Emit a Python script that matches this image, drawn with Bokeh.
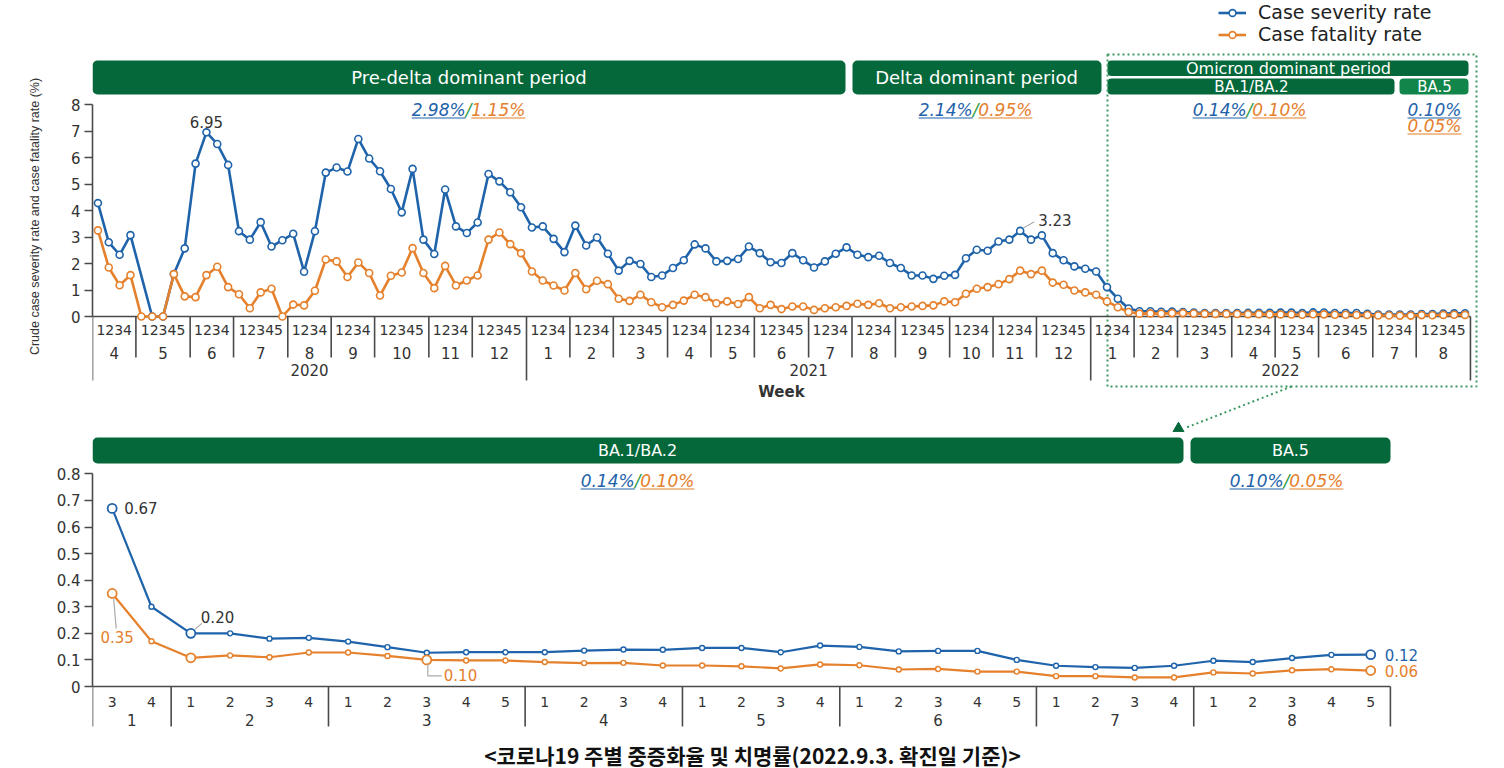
import math
from bokeh.plotting import figure
from bokeh.models import (FixedTicker, Legend, LegendItem, Range1d,
                          CustomJSTickFormatter)
from bokeh.layouts import column
from bokeh.core.properties import value
from bokeh.embed import file_html
from bokeh.resources import INLINE

NaN = float("nan")

# ======================= DATA =======================
years = ["2020", "2021", "2022"]
months_2020 = ["4", "5", "6", "7", "8", "9", "10", "11", "12"]
weeks_2020 = [4, 5, 4, 5, 4, 4, 5, 4, 5]
months_2021 = ["1", "2", "3", "4", "5", "6", "7", "8", "9", "10", "11", "12"]
weeks_2021 = [4, 4, 5, 4, 4, 5, 4, 4, 5, 4, 4, 5]
months_2022 = ["1", "2", "3", "4", "5", "6", "7", "8"]
weeks_2022 = [4, 4, 5, 4, 4, 5, 4, 5]

severity_2020 = [
    4.28, 2.80, 2.33, 3.07,
    NaN, 0.00, 0.00, 1.60, 2.57,
    5.77, 6.95, 6.51, 5.72,
    3.22, 2.90, 3.56, 2.64, 2.88,
    3.12, 1.69, 3.22, 5.43,
    5.62, 5.47, 6.70, 5.96,
    5.48, 4.81, 3.93, 5.57, 2.90,
    2.36, 4.79, 3.40, 3.15,
    3.55, 5.38, 5.10, 4.69, 4.12,
]
fatality_2020 = [
    3.25, 1.85, 1.18, 1.56,
    0.00, 0.00, 0.00, 1.60, 0.76,
    0.73, 1.56, 1.88, 1.11,
    0.84, 0.31, 0.91, 1.05, 0.00,
    0.45, 0.42, 0.97, 2.15,
    2.08, 1.49, 2.04, 1.64,
    0.79, 1.54, 1.66, 2.58, 1.64,
    1.07, 1.91, 1.17, 1.36,
    1.55, 2.90, 3.17, 2.73, 2.39,
]
severity_2021 = [
    3.36, 3.40, 2.93, 2.43,
    3.43, 2.68, 2.98, 2.37,
    1.73, 2.10, 1.98, 1.49, 1.55,
    1.83, 2.12, 2.72, 2.57,
    2.08, 2.10, 2.17, 2.64,
    2.39, 2.05, 2.02, 2.39, 2.12,
    1.85, 2.08, 2.37, 2.61,
    2.33, 2.24, 2.29, 2.02,
    1.83, 1.55, 1.55, 1.42, 1.54,
    1.57, 2.20, 2.52, 2.48,
    2.83, 2.90, 3.23, 2.90,
    3.06, 2.39, 2.12, 1.89, 1.80,
]
fatality_2021 = [
    1.70, 1.36, 1.17, 0.98,
    1.64, 1.03, 1.35, 1.22,
    0.67, 0.59, 0.82, 0.54, 0.35,
    0.44, 0.60, 0.82, 0.73,
    0.50, 0.57, 0.47, 0.73,
    0.31, 0.44, 0.28, 0.38, 0.38,
    0.25, 0.31, 0.35, 0.40,
    0.48, 0.44, 0.50, 0.31,
    0.35, 0.38, 0.40, 0.42, 0.57,
    0.54, 0.86, 1.05, 1.11,
    1.22, 1.41, 1.73, 1.60,
    1.73, 1.28, 1.20, 0.98, 0.91,
]
severity_2022_jan_w1_w2 = [1.70, 1.11]
fatality_2022_jan_w1_w2 = [0.82, 0.57]

# 2022, January week 3 - August week 5 (lower panel)
bottom_months = ["1", "2", "3", "4", "5", "6", "7", "8"]
bottom_weeks = [["3", "4"], ["1", "2", "3", "4"], ["1", "2", "3", "4", "5"],
                ["1", "2", "3", "4"], ["1", "2", "3", "4"],
                ["1", "2", "3", "4", "5"], ["1", "2", "3", "4"],
                ["1", "2", "3", "4", "5"]]
severity_2022 = [0.67, 0.30,
                 0.20, 0.20, 0.18, 0.183,
                 0.169, 0.148, 0.127, 0.129, 0.129,
                 0.129, 0.135, 0.139, 0.138,
                 0.145, 0.145, 0.129, 0.154,
                 0.149, 0.132, 0.134, 0.134, 0.10,
                 0.078, 0.073, 0.070, 0.078,
                 0.097, 0.092, 0.107, 0.119, 0.12]
fatality_2022 = [0.35, 0.17,
                 0.108, 0.117, 0.11, 0.128,
                 0.128, 0.115, 0.10, 0.098, 0.098,
                 0.092, 0.088, 0.089, 0.079,
                 0.079, 0.076, 0.068, 0.083,
                 0.080, 0.064, 0.066, 0.056, 0.056,
                 0.039, 0.039, 0.034, 0.034,
                 0.053, 0.049, 0.061, 0.065, 0.06]

period_rates = [("2.98%", "1.15%"), ("2.14%", "0.95%"), ("0.14%", "0.10%"), ("0.10%", "0.05%")]
y_ticks_top = [0, 1, 2, 3, 4, 5, 6, 7, 8]
y_ticks_bottom = [0, 0.1, 0.2, 0.3, 0.4, 0.5, 0.6, 0.7, 0.8]

# ======================= STYLE =======================
BLUE = "#1f63aa"
ORANGE = "#e5802c"
GREEN = "#04683a"
GREEN_LIGHT = "#12864a"
GREEN_DOT = "#3f9a62"
SLASH_GREEN = "#2a9a4a"
AXIS = "#4a4a4a"
TXT = "#333333"
FONT = "DejaVu Sans"

W = 1500
LEFT = 92
TOP_H = 432
BOT_H = 336
TOP_SLOT = 10.85
TOP_UNIT = 26.5
BOT_SLOT = 39.33
BOT_UNIT = 265.8


def tx(px):  # page px -> top data x
    return (px - LEFT) / TOP_SLOT


def ty(py):  # page px -> top data y
    return (316 - py) / TOP_UNIT


def bx(px):
    return (px - LEFT) / BOT_SLOT


def by(py):
    return (686 - py) / BOT_UNIT


DVW = {".": 0.318, "%": 0.950, "/": 0.337}


def dv_width(s, size):
    return sum(DVW.get(ch, 0.636) for ch in s) * size


def txt(p, x, y, s, size, color=TXT, align="center", baseline="middle",
        style="normal", font=FONT):
    p.text(x=[x], y=[y], text=[s], text_font=value(font),
           text_font_size=f"{size}px", text_color=color, text_align=align,
           text_baseline=baseline, text_font_style=style)


def rate_pair(p, sx, vy, left, right, size, slot, unit):
    half = dv_width("/", size) / 2 / slot
    txt(p, sx, vy, "/", size, SLASH_GREEN, style="italic")
    txt(p, sx - half, vy, left, size, BLUE, align="right", style="italic")
    txt(p, sx + half, vy, right, size, ORANGE, align="left", style="italic")
    uy = vy - (size * 0.5) / unit
    lw = dv_width(left, size) / slot
    rw = dv_width(right, size) / slot
    p.segment(x0=[sx - half - lw, sx + half], y0=[uy, uy],
              x1=[sx - half, sx + half + rw], y1=[uy, uy],
              line_color=[BLUE, ORANGE], line_width=1.2)


def stacked_rate(p, sx, vy, top_s, bot_s, size, slot, unit):
    for s, c, dy in ((top_s, BLUE, 0), (bot_s, ORANGE, 16)):
        yy = vy - dy / unit
        txt(p, sx, yy, s, size, c, style="italic")
        w = dv_width(s, size) / slot
        uy = yy - (size * 0.5) / unit
        p.segment(x0=[sx - w / 2], y0=[uy], x1=[sx + w / 2], y1=[uy],
                  line_color=c, line_width=1.2)


def style_fig(p):
    p.xaxis.visible = False
    p.xgrid.visible = False
    p.ygrid.visible = False
    p.outline_line_color = None
    p.background_fill_color = "white"
    p.border_fill_color = "white"
    ax = p.yaxis[0]
    ax.axis_line_color = AXIS
    ax.axis_line_width = 1.6
    ax.major_tick_line_color = AXIS
    ax.major_tick_line_width = 1.6
    ax.major_tick_out = 8
    ax.major_tick_in = 0
    ax.minor_tick_out = 0
    ax.minor_tick_in = 0
    ax.major_label_text_font = FONT
    ax.major_label_text_font_size = "15px"
    ax.major_label_text_color = TXT
    ax.major_label_standoff = 4


# ======================= TOP PANEL =======================
sev_top = severity_2020 + severity_2021 + severity_2022_jan_w1_w2 + severity_2022
fat_top = fatality_2020 + fatality_2021 + fatality_2022_jan_w1_w2 + fatality_2022
n_top = len(sev_top)
x_top = [i + 0.5 for i in range(n_top)]

p1 = figure(width=W, height=TOP_H, output_backend="svg", toolbar_location=None,
            x_range=Range1d(0, (W - LEFT) / TOP_SLOT),
            y_range=Range1d(ty(TOP_H), ty(0)),
            min_border_left=LEFT, min_border_right=0, min_border_top=0,
            min_border_bottom=0)
style_fig(p1)
p1.yaxis.ticker = FixedTicker(ticks=y_ticks_top)
p1.yaxis.bounds = (0, 8)
p1.yaxis.axis_label = "Crude case severity rate and case fatality rate (%)"
p1.yaxis.axis_label_text_font = "Liberation Sans"
p1.yaxis.axis_label_text_font_size = "12.5px"
p1.yaxis.axis_label_text_font_style = "normal"
p1.yaxis.axis_label_text_color = TXT
p1.yaxis.axis_label_standoff = 26

# period bars
p1.quad(left=[tx(92), tx(852)], right=[tx(845), tx(1101)],
        top=[ty(60)] * 2, bottom=[ty(94)] * 2, fill_color=GREEN,
        line_color=None, border_radius=5)
p1.quad(left=[tx(1107), tx(1107)], right=[tx(1468), tx(1394)],
        top=[ty(60), ty(78)], bottom=[ty(75.5), ty(94)], fill_color=GREEN,
        line_color=None, border_radius=4)
p1.quad(left=[tx(1399)], right=[tx(1468)], top=[ty(78)], bottom=[ty(94)],
        fill_color=GREEN_LIGHT, line_color=None, border_radius=4)
txt(p1, tx(468.5), ty(77), "Pre-delta dominant period", 18, "white")
txt(p1, tx(976), ty(77), "Delta dominant period", 18, "white")
txt(p1, tx(1288), ty(68), "Omicron dominant period", 16, "white")
txt(p1, tx(1251), ty(86.5), "BA.1/BA.2", 15, "white")
txt(p1, tx(1434), ty(86.5), "BA.5", 15, "white")

# period rates
rate_pair(p1, tx(468), ty(109), *period_rates[0], 17, TOP_SLOT, TOP_UNIT)
rate_pair(p1, tx(975), ty(109), *period_rates[1], 17, TOP_SLOT, TOP_UNIT)
rate_pair(p1, tx(1249), ty(109), *period_rates[2], 17, TOP_SLOT, TOP_UNIT)
stacked_rate(p1, tx(1434), ty(109), *period_rates[3], 17, TOP_SLOT, TOP_UNIT)

# omicron dotted box and pointer
p1.quad(left=[tx(1107)], right=[tx(1476)], top=[ty(54)], bottom=[ty(386)],
        fill_color=None, line_color=GREEN_DOT, line_dash="2 3", line_width=2)
p1.segment(x0=[tx(1291)], y0=[ty(386)], x1=[tx(1186)], y1=[ty(427)],
           line_color=GREEN_DOT, line_dash="2 3", line_width=2)
p1.scatter(x=[tx(1178)], y=[ty(428)], marker="triangle", size=11,
           fill_color=GREEN, line_color=GREEN)

# custom week / month / year axis
all_months = months_2020 + months_2021 + months_2022
all_weeks = weeks_2020 + weeks_2021 + weeks_2022
year_sizes = [sum(weeks_2020), sum(weeks_2021), sum(weeks_2022)]
p1.segment(x0=[0], y0=[0], x1=[n_top], y1=[0], line_color=AXIS, line_width=1.6)
bounds = [0]
for w in all_weeks:
    bounds.append(bounds[-1] + w)
year_bounds = [0]
for w in year_sizes:
    year_bounds.append(year_bounds[-1] + w)
mb = [b for b in bounds if b not in year_bounds]
p1.segment(x0=mb, y0=[0] * len(mb), x1=mb, y1=[ty(357)] * len(mb),
           line_color=AXIS, line_width=1.6)
p1.segment(x0=year_bounds, y0=[0] * len(year_bounds), x1=year_bounds,
           y1=[ty(380)] * len(year_bounds), line_color=AXIS, line_width=1.6)
mo_x, wk_t = [], []
for i, w in enumerate(all_weeks):
    mo_x.append(bounds[i] + w / 2)
    wk_t.append("".join(str(k + 1) for k in range(w)))
p1.text(x=mo_x, y=[ty(329)] * len(mo_x), text=wk_t, text_font=value(FONT),
        text_font_size="14px", text_color=TXT, text_align="center",
        text_baseline="middle")
p1.text(x=mo_x, y=[ty(352)] * len(mo_x), text=all_months, text_font=value(FONT),
        text_font_size="15px", text_color=TXT, text_align="center",
        text_baseline="middle")
yr_x = [(year_bounds[i] + year_bounds[i + 1]) / 2 for i in range(3)]
p1.text(x=yr_x, y=[ty(369)] * 3, text=years, text_font=value(FONT),
        text_font_size="15px", text_color=TXT, text_align="center",
        text_baseline="middle")
txt(p1, n_top / 2, ty(391), "Week", 15, TXT, style="bold")

# series
def valid(xs, ys):
    pts = [(a, b) for a, b in zip(xs, ys) if not math.isnan(b)]
    return [a for a, _ in pts], [b for _, b in pts]


bx_v, by_v = valid(x_top, sev_top)
ox_v, oy_v = valid(x_top, fat_top)
bl = p1.line(bx_v, by_v, line_color=BLUE, line_width=2.6)
bs = p1.scatter(bx_v, by_v, size=7, fill_color="white", line_color=BLUE,
                line_width=1.6)
ol = p1.line(ox_v, oy_v, line_color=ORANGE, line_width=2.6)
osr = p1.scatter(ox_v, oy_v, size=7, fill_color="white", line_color=ORANGE,
                 line_width=1.6)

# value labels
i695 = 10
txt(p1, x_top[i695], sev_top[i695] + 10 / TOP_UNIT, f"{sev_top[i695]:.2f}", 15, TXT)
i323 = 85
p1.segment(x0=[x_top[i323] + 0.3], y0=[sev_top[i323] + 3 / TOP_UNIT],
           x1=[x_top[i323] + 1.3], y1=[sev_top[i323] + 9 / TOP_UNIT],
           line_color="#999999", line_width=1)
txt(p1, x_top[i323] + 18 / TOP_SLOT, sev_top[i323] + 11 / TOP_UNIT,
    f"{sev_top[i323]:.2f}", 15, TXT, align="left")

legend = Legend(items=[LegendItem(label="Case severity rate", renderers=[bl, bs]),
                       LegendItem(label="Case fatality rate", renderers=[ol, osr])],
                location=(1218 - LEFT, TOP_H - 45), orientation="vertical",
                label_text_font=FONT, label_text_font_size="19px",
                label_text_color="#222222", glyph_width=28, glyph_height=17,
                label_height=17, spacing=0, padding=0, margin=0,
                label_standoff=12, border_line_color=None,
                background_fill_alpha=0)
p1.add_layout(legend)

# ======================= BOTTOM PANEL =======================
n_b = len(severity_2022)
x_b = [i + 0.5 for i in range(n_b)]
p2 = figure(width=W, height=BOT_H, output_backend="svg", toolbar_location=None,
            x_range=Range1d(0, (W - LEFT) / BOT_SLOT),
            y_range=Range1d(by(TOP_H + BOT_H), by(TOP_H)),
            min_border_left=LEFT, min_border_right=0, min_border_top=0,
            min_border_bottom=0)
style_fig(p2)
p2.yaxis.ticker = FixedTicker(ticks=y_ticks_bottom)
p2.yaxis.bounds = (0, 0.8)
p2.yaxis.formatter = CustomJSTickFormatter(
    code="return tick === 0 ? '0' : tick.toFixed(1);")

p2.quad(left=[bx(92), bx(1190)], right=[bx(1183), bx(1390)],
        top=[by(437)] * 2, bottom=[by(463)] * 2, fill_color=GREEN,
        line_color=None, border_radius=5)
txt(p2, bx(637), by(450), "BA.1/BA.2", 16, "white")
txt(p2, bx(1290), by(450), "BA.5", 16, "white")
rate_pair(p2, bx(637), by(480), *period_rates[2], 17, BOT_SLOT, BOT_UNIT)
rate_pair(p2, bx(1286), by(480), *period_rates[3], 17, BOT_SLOT, BOT_UNIT)

bbounds = [0]
for wl in bottom_weeks:
    bbounds.append(bbounds[-1] + len(wl))
p2.segment(x0=[0], y0=[0], x1=[n_b], y1=[0], line_color=AXIS, line_width=1.6)
p2.segment(x0=bbounds, y0=[0] * len(bbounds), x1=bbounds,
           y1=[by(726)] * len(bbounds), line_color=AXIS, line_width=1.6)
bw_x, bw_t, bm_x = [], [], []
for i, wl in enumerate(bottom_weeks):
    for k, t in enumerate(wl):
        bw_x.append(bbounds[i] + k + 0.5)
        bw_t.append(t)
    bm_x.append(bbounds[i] + len(wl) / 2)
p2.text(x=bw_x, y=[by(701)] * len(bw_x), text=bw_t, text_font=value(FONT),
        text_font_size="14px", text_color=TXT, text_align="center",
        text_baseline="middle")
p2.text(x=bm_x, y=[by(719)] * len(bm_x), text=bottom_months,
        text_font=value(FONT), text_font_size="15px", text_color=TXT,
        text_align="center", text_baseline="middle")

p2.line(x_b, severity_2022, line_color=BLUE, line_width=2.2)
p2.line(x_b, fatality_2022, line_color=ORANGE, line_width=2.2)
p2.scatter(x_b, severity_2022, size=5, fill_color="white", line_color=BLUE,
           line_width=1.4)
p2.scatter(x_b, fatality_2022, size=5, fill_color="white", line_color=ORANGE,
           line_width=1.4)
hb = [0, 2, n_b - 1]
ho = [0, 2, 8, n_b - 1]
p2.scatter([x_b[i] for i in hb], [severity_2022[i] for i in hb], size=9,
           fill_color="white", line_color=BLUE, line_width=1.8)
p2.scatter([x_b[i] for i in ho], [fatality_2022[i] for i in ho], size=9,
           fill_color="white", line_color=ORANGE, line_width=1.8)

LG = "#aaaaaa"
# 0.67
txt(p2, x_b[0] + 12 / BOT_SLOT, severity_2022[0], f"{severity_2022[0]:.2f}",
    15, TXT, align="left")
# 0.20
p2.segment(x0=[x_b[2] + 4 / BOT_SLOT], y0=[severity_2022[2] + 4 / BOT_UNIT],
           x1=[x_b[2] + 11 / BOT_SLOT], y1=[severity_2022[2] + 10 / BOT_UNIT],
           line_color=LG, line_width=1.2)
txt(p2, x_b[2] + 10 / BOT_SLOT, severity_2022[2] + 16 / BOT_UNIT,
    f"{severity_2022[2]:.2f}", 15, TXT, align="left")
# 0.35
p2.segment(x0=[x_b[0] + 1.5 / BOT_SLOT], y0=[fatality_2022[0] - 5 / BOT_UNIT],
           x1=[x_b[0] + 4 / BOT_SLOT], y1=[fatality_2022[0] - 35 / BOT_UNIT],
           line_color=LG, line_width=1.2)
txt(p2, x_b[0] + 5 / BOT_SLOT, fatality_2022[0] - 44 / BOT_UNIT,
    f"{fatality_2022[0]:.2f}", 15, ORANGE)
# 0.10
p2.line([x_b[8] + 1 / BOT_SLOT, x_b[8] + 1 / BOT_SLOT, x_b[8] + 15 / BOT_SLOT],
        [fatality_2022[8] - 4 / BOT_UNIT, fatality_2022[8] - 16 / BOT_UNIT,
         fatality_2022[8] - 16 / BOT_UNIT], line_color=LG, line_width=1.2)
txt(p2, x_b[8] + 17 / BOT_SLOT, fatality_2022[8] - 15 / BOT_UNIT,
    f"{fatality_2022[8]:.2f}", 15, ORANGE, align="left")
# end labels
txt(p2, x_b[-1] + 14 / BOT_SLOT, severity_2022[-1], f"{severity_2022[-1]:.2f}",
    15, BLUE, align="left")
txt(p2, x_b[-1] + 14 / BOT_SLOT, fatality_2022[-1], f"{fatality_2022[-1]:.2f}",
    15, ORANGE, align="left")

txt(p2, bx(752), by(754), "<코로나19 주별 중증화율 및 치명률(2022.9.3. 확진일 기준)>",
    21, "#111111", style="bold", font="Noto Sans CJK KR")

layout = column(p1, p2)
open("out.html", "w").write(file_html(layout, INLINE))
